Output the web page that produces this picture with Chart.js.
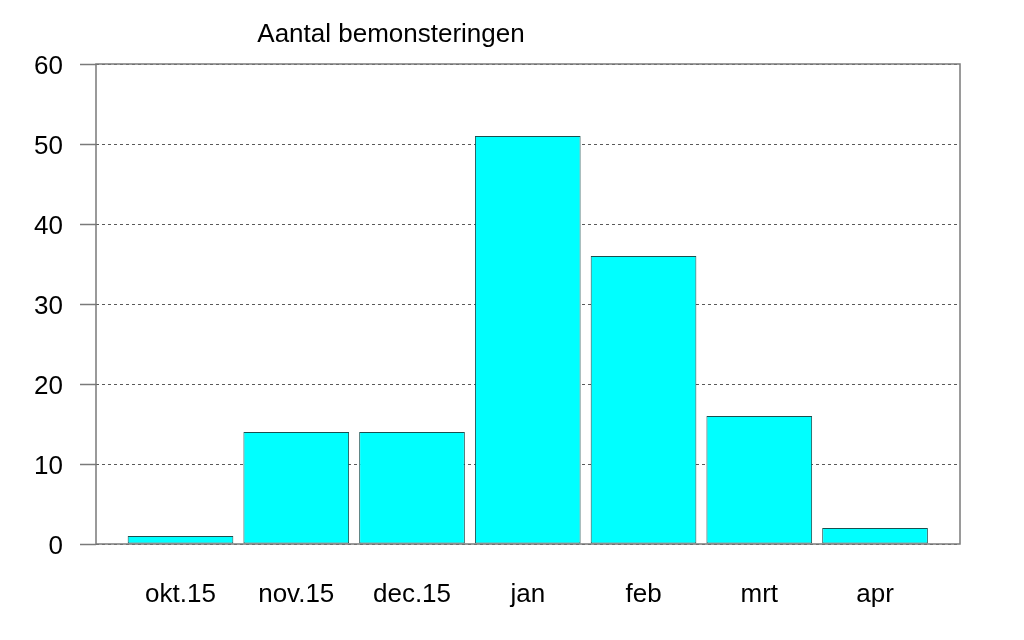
<!DOCTYPE html>
<html lang="nl">
<head>
    <meta charset="UTF-8">
    <title>Aantal bemonsteringen</title>
    <style>
        body {
            margin: 0;
            padding: 0;
            background: #ffffff;
        }

        .wrap {
            width: 1024px;
            height: 640px;
            position: relative;
        }
    </style>
</head>
<body>
    <div class="wrap">
        <canvas id="myChart"></canvas>
    </div>

    <script src="https://cdn.jsdelivr.net/npm/chart.js"></script>
    <script>
        const chartTitle = 'Aantal bemonsteringen';
        const months = ['okt.15', 'nov.15', 'dec.15', 'jan', 'feb', 'mrt', 'apr'];
        const counts = [1, 14, 14, 51, 36, 16, 2];
        const yTicks = [0, 10, 20, 30, 40, 50, 60];

        const fontFamily = '"Liberation Sans", Arial, sans-serif';

        // title sits left of centre in the original, so draw it by hand
        const titlePlugin = {
            id: 'titleText',
            afterDraw(chart) {
                const ctx = chart.ctx;
                ctx.save();
                ctx.font = '26px ' + fontFamily;
                ctx.fillStyle = '#000';
                ctx.textAlign = 'center';
                ctx.textBaseline = 'middle';
                ctx.fillText(chartTitle, 391, 35);
                ctx.restore();
            }
        };

        // grey box round the plot area
        const framePlugin = {
            id: 'frame',
            afterDatasetsDraw(chart) {
                const a = chart.chartArea;
                const ctx = chart.ctx;
                ctx.save();
                ctx.strokeStyle = '#7a7a7a';
                ctx.lineWidth = 1.5;
                ctx.strokeRect(a.left, a.top, a.right - a.left, a.bottom - a.top);
                ctx.restore();
            }
        };

        const ctx = document.getElementById('myChart').getContext('2d');
        new Chart(ctx, {
            type: 'bar',
            data: {
                datasets: [{
                    label: chartTitle,
                    data: counts.map((v, i) => ({ x: i, y: v })),
                    backgroundColor: '#00ffff',
                    borderColor: '#1a5050',
                    borderWidth: 1,
                    borderSkipped: false,
                    categoryPercentage: 1,
                    barPercentage: 0.913
                }]
            },
            options: {
                responsive: true,
                maintainAspectRatio: false,
                animation: false,
                layout: {
                    padding: { left: 0, right: 64, top: 64, bottom: 0 }
                },
                plugins: {
                    legend: { display: false },
                    title: { display: false },
                    tooltip: { enabled: false }
                },
                scales: {
                    x: {
                        type: 'linear',
                        offset: false,
                        min: -0.73,
                        max: 6.734,
                        afterBuildTicks(scale) {
                            scale.ticks = months.map((m, i) => ({ value: i }));
                        },
                        afterFit(scale) {
                            scale.height = 96;
                        },
                        grid: { display: false, drawTicks: false },
                        border: { display: false },
                        ticks: {
                            autoSkip: false,
                            maxRotation: 0,
                            padding: 35,
                            color: '#000',
                            font: { family: fontFamily, size: 26 },
                            callback: (v) => months[v]
                        }
                    },
                    y: {
                        min: 0,
                        max: 60,
                        afterBuildTicks(scale) {
                            scale.ticks = yTicks.map(v => ({ value: v }));
                        },
                        afterFit(scale) {
                            scale.width = 96;
                        },
                        grid: {
                            color: '#5a5a5a',
                            lineWidth: 1,
                            tickLength: 16,
                            tickColor: '#7a7a7a',
                            tickWidth: 1.5,
                            tickBorderDash: []
                        },
                        border: { display: false, dash: [3, 3] },
                        ticks: {
                            padding: 17,
                            labelOffset: 3,
                            color: '#000',
                            font: { family: fontFamily, size: 26 }
                        }
                    }
                }
            },
            plugins: [titlePlugin, framePlugin]
        });
    </script>
</body>
</html>
